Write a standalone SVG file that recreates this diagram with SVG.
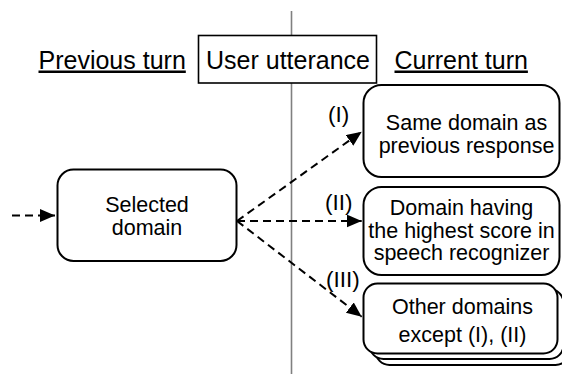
<svg xmlns="http://www.w3.org/2000/svg" width="562" height="374" viewBox="0 0 562 374">
<defs>
<style>
.t{font-family:"Liberation Sans",Arial,sans-serif;fill:#000}
.hd{font-size:25px;text-decoration:underline}
.nt{font-size:21.5px;text-anchor:middle}
.lb{font-size:22.5px}
.box{fill:#fff;stroke:#000;stroke-width:2}
.dash{fill:none;stroke:#000;stroke-width:2;stroke-dasharray:8 5}
</style>
<marker id="ah" markerUnits="userSpaceOnUse" markerWidth="16" markerHeight="14" refX="15" refY="6.5" orient="auto">
<path d="M0,0 L15,6.5 L0,13 Z" fill="#000"/>
</marker>
</defs>
<rect width="562" height="374" fill="#fff"/>
<line x1="291.5" y1="11" x2="291.5" y2="374" stroke="#808080" stroke-width="1.6"/>
<g id="headers">
<text class="t hd" x="38.5" y="68.5">Previous turn</text>
<g id="user-utterance">
<rect x="198.5" y="35.5" width="178" height="47.5" fill="#fff" stroke="#000" stroke-width="1.6"/>
<text class="t" font-size="25" x="206" y="68.5">User utterance</text>
</g>
<text class="t hd" x="394.5" y="68.5">Current turn</text>
</g>
<g id="connectors">
<line class="dash" x1="12" y1="215.5" x2="55" y2="215.5" marker-end="url(#ah)"/>
<line class="dash" x1="237" y1="221" x2="361.7" y2="131.7" marker-end="url(#ah)"/>
<line class="dash" x1="237" y1="221" x2="361.7" y2="221" marker-end="url(#ah)"/>
<line class="dash" x1="237" y1="221" x2="361.7" y2="316.7" marker-end="url(#ah)"/>
<text class="t lb" x="328" y="121.5">(I)</text>
<text class="t lb" x="325" y="210">(II)</text>
<text class="t lb" x="326" y="286.5">(III)</text>
</g>
<g id="selected-domain">
<rect class="box" x="57.5" y="169.5" width="179" height="91.5" rx="16"/>
<text class="t nt" x="147" y="211.5">Selected</text>
<text class="t nt" x="147" y="235">domain</text>
</g>
<g id="same-domain">
<rect class="box" x="363.5" y="85" width="196" height="92" rx="18"/>
<text class="t nt" x="466.5" y="130">Same domain as</text>
<text class="t nt" x="466.5" y="152.5">previous response</text>
</g>
<g id="highest-score">
<rect class="box" x="363.5" y="187" width="196" height="88" rx="18"/>
<text class="t nt" x="461.5" y="215">Domain having</text>
<text class="t nt" x="461.5" y="237.5">the highest score in</text>
<text class="t nt" x="461.5" y="260">speech recognizer</text>
</g>
<g id="other-domains">
<rect class="box" x="375.5" y="295" width="194" height="70" rx="14"/>
<rect class="box" x="369.5" y="289" width="194" height="70" rx="14"/>
<rect class="box" x="363.5" y="283.5" width="194" height="70" rx="14"/>
<text class="t nt" x="462.5" y="313.5">Other domains</text>
<text class="t nt" x="462.5" y="341.5">except (I), (II)</text>
</g>
</svg>
